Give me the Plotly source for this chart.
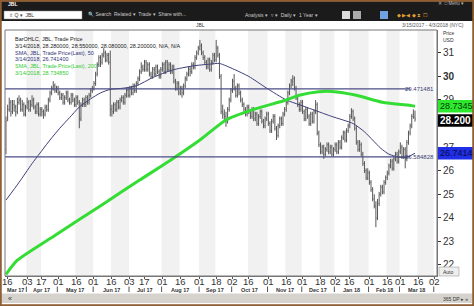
import plotly.graph_objects as go
import pandas as pd

# ---------------- data ----------------
holidays = ["2017-04-14", "2017-05-29", "2017-07-04", "2017-09-04", "2017-11-23",
            "2017-12-25", "2018-01-01", "2018-01-15", "2018-02-19", "2018-03-30"]
trade_dates = pd.bdate_range("2017-03-15", "2018-04-03", freq="C", holidays=holidays)

opens = [
    26.9, 28.2, 28.6, 28.9, 28.5, 28.8, 28.7, 28.5, 28.9, 29.0,
    28.6, 28.8, 28.4, 28.7, 28.9, 28.6, 28.8, 29.0, 28.7, 28.5,
    28.8, 28.4, 28.6, 28.5, 28.4, 28.7, 28.6, 29.0, 29.3, 29.5,
    29.6, 29.4, 29.5, 29.3, 29.1, 29.2, 28.9, 29.1, 29.3, 29.0,
    28.9, 29.2, 29.0, 28.8, 29.1, 28.9, 28.2, 28.8, 29.0, 28.8,
    29.1, 28.9, 29.2, 29.4, 29.5, 29.7, 30.1, 30.5, 30.8, 30.6,
    30.9, 31.0, 30.7, 30.9, 30.6, 28.6, 28.5, 28.8, 28.6, 28.9,
    28.7, 29.0, 29.1, 28.9, 29.2, 29.4, 29.2, 29.5, 29.3, 29.6,
    29.4, 29.7, 29.9, 30.2, 30.4, 30.3, 30.6, 30.3, 30.5, 30.1,
    30.0, 30.3, 30.1, 30.4, 30.2, 30.0, 30.3, 30.5, 30.2, 30.6,
    30.3, 30.5, 30.2, 30.4, 29.8, 29.5, 29.7, 29.3, 29.5, 29.3,
    29.6, 29.9, 30.1, 30.3, 30.2, 30.5, 30.4, 30.8, 31.0, 31.2,
    31.3, 31.0, 30.8, 30.6, 30.4, 30.7, 30.3, 30.6, 30.9, 30.7,
    31.2, 30.9, 30.0, 28.5, 28.4, 28.3, 28.1, 28.6, 29.0, 29.4,
    29.8, 29.5, 29.2, 29.6, 29.3, 29.0, 28.8, 28.6, 28.4, 28.7,
    28.5, 28.3, 28.6, 28.2, 28.4, 28.0, 28.3, 28.5, 28.1, 27.9,
    28.2, 28.4, 28.0, 27.7, 28.1, 28.3, 27.8, 27.5, 27.9, 28.2,
    28.0, 28.4, 28.6, 28.9, 29.3, 29.6, 29.8, 29.9, 29.5, 29.1,
    28.8, 28.6, 28.9, 28.5, 28.2, 28.6, 28.3, 28.0, 28.4, 28.1,
    28.5, 28.8, 27.6, 27.1, 26.8, 27.0, 26.7, 26.9, 27.1, 26.8,
    27.0, 26.7, 26.9, 27.1, 26.8, 27.2, 27.0, 27.4, 27.6, 27.3,
    27.7, 27.9, 28.3, 28.5, 28.2, 27.8, 27.2, 26.9, 27.1, 26.7,
    26.3, 26.0, 25.7, 25.9, 25.5, 25.2, 24.8, 24.5, 24.0, 24.6,
    25.0, 25.3, 25.1, 25.5, 25.7, 25.9, 26.2, 26.4, 26.1, 26.5,
    26.7, 26.4, 26.8, 27.0, 26.6, 26.9, 26.5, 27.2, 27.6, 27.9,
    28.3, 28.28,
]
highs = [
    28.3, 28.8, 29.1, 29.0, 29.0, 29.0, 28.8, 29.1, 29.2, 29.1,
    29.0, 28.9, 28.8, 29.1, 29.0, 29.0, 29.2, 29.1, 28.8, 28.9,
    28.9, 28.7, 28.7, 28.6, 28.8, 28.8, 29.1, 29.4, 29.6, 29.8,
    29.7, 29.6, 29.6, 29.4, 29.3, 29.3, 29.2, 29.4, 29.4, 29.1,
    29.3, 29.3, 29.1, 29.2, 29.2, 29.0, 28.9, 29.1, 29.1, 29.2,
    29.2, 29.3, 29.5, 29.6, 29.8, 30.2, 30.6, 30.9, 30.9, 31.0,
    31.2, 31.1, 31.0, 31.0, 31.1, 28.8, 28.9, 28.9, 29.0, 29.0,
    29.1, 29.2, 29.2, 29.3, 29.5, 29.5, 29.6, 29.6, 29.7, 29.7,
    29.8, 30.0, 30.3, 30.6, 30.5, 30.7, 30.7, 30.6, 30.6, 30.2,
    30.4, 30.4, 30.5, 30.5, 30.3, 30.4, 30.6, 30.6, 30.7, 30.7,
    30.6, 30.6, 30.5, 30.5, 29.9, 29.8, 29.8, 29.6, 29.6, 29.7,
    30.0, 30.2, 30.4, 30.4, 30.6, 30.6, 30.9, 31.1, 31.3, 31.55,
    31.4, 31.1, 30.9, 30.7, 30.8, 30.8, 30.7, 31.0, 31.0, 31.55,
    31.3, 31.0, 30.1, 28.8, 28.6, 28.5, 28.7, 29.1, 29.5, 29.9,
    30.1, 29.6, 29.7, 29.7, 29.4, 29.1, 28.9, 28.7, 28.8, 28.8,
    28.6, 28.7, 28.7, 28.5, 28.5, 28.4, 28.6, 28.6, 28.2, 28.3,
    28.5, 28.5, 28.1, 28.2, 28.4, 28.4, 27.9, 28.0, 28.3, 28.3,
    28.5, 28.7, 29.0, 29.4, 29.7, 29.9, 30.05, 30.0, 29.6, 29.2,
    28.9, 29.0, 29.0, 28.6, 28.7, 28.7, 28.4, 28.5, 28.5, 28.6,
    29.0, 28.9, 27.7, 27.2, 27.1, 27.1, 27.0, 27.2, 27.2, 27.1,
    27.1, 27.0, 27.2, 27.2, 27.3, 27.3, 27.5, 27.7, 27.7, 27.8,
    28.0, 28.4, 28.65, 28.6, 28.3, 27.9, 27.3, 27.3, 27.2, 26.8,
    26.4, 26.1, 26.1, 26.0, 25.6, 25.3, 25.0, 24.7, 24.8, 25.1,
    25.4, 25.4, 25.6, 25.8, 26.0, 26.3, 26.5, 26.5, 26.6, 26.8,
    26.8, 26.9, 27.2, 27.1, 27.0, 27.0, 27.3, 27.7, 28.0, 28.4,
    28.6, 28.55,
]
lows = [
    26.7, 28.1, 28.5, 28.3, 28.4, 28.5, 28.3, 28.4, 28.8, 28.5,
    28.5, 28.3, 28.3, 28.6, 28.5, 28.5, 28.7, 28.6, 28.4, 28.4,
    28.3, 28.3, 28.3, 28.2, 28.3, 28.5, 28.5, 28.9, 29.2, 29.4,
    29.3, 29.3, 29.2, 29.0, 29.0, 28.8, 28.8, 29.0, 28.9, 28.8,
    28.8, 28.9, 28.7, 28.7, 28.8, 27.8, 28.1, 28.7, 28.7, 28.7,
    28.8, 28.8, 29.1, 29.3, 29.4, 29.6, 30.0, 30.4, 30.4, 30.5,
    30.8, 30.6, 30.6, 30.5, 28.3, 28.3, 28.4, 28.5, 28.5, 28.6,
    28.6, 28.9, 28.8, 28.8, 29.1, 29.1, 29.1, 29.2, 29.2, 29.3,
    29.3, 29.6, 29.8, 30.1, 30.2, 30.2, 30.2, 30.2, 30.0, 29.9,
    29.9, 30.0, 30.0, 30.1, 29.9, 29.9, 30.2, 30.1, 30.1, 30.2,
    30.2, 30.1, 30.1, 29.7, 29.4, 29.4, 29.2, 29.2, 29.1, 29.2,
    29.5, 29.8, 30.0, 30.0, 30.1, 30.3, 30.3, 30.7, 30.9, 31.1,
    30.9, 30.7, 30.5, 30.3, 30.3, 30.2, 30.2, 30.5, 30.6, 30.6,
    30.8, 29.9, 28.4, 28.2, 28.1, 27.86, 28.0, 28.5, 28.9, 29.3,
    29.4, 29.1, 29.1, 29.2, 28.9, 28.7, 28.5, 28.3, 28.3, 28.4,
    28.2, 28.2, 28.1, 28.1, 27.9, 27.9, 28.2, 28.0, 27.8, 27.8,
    28.1, 27.9, 27.6, 27.6, 28.0, 27.7, 27.3, 27.4, 27.8, 27.9,
    27.9, 28.3, 28.5, 28.8, 29.2, 29.5, 29.6, 29.4, 29.0, 28.7,
    28.5, 28.5, 28.4, 28.1, 28.1, 28.2, 27.9, 27.9, 28.0, 28.0,
    28.4, 27.5, 27.0, 26.7, 26.7, 26.5, 26.6, 26.8, 26.7, 26.7,
    26.6, 26.6, 26.8, 26.7, 26.7, 26.9, 26.9, 27.3, 27.2, 27.2,
    27.6, 27.8, 28.2, 28.1, 27.7, 27.1, 26.8, 26.8, 26.6, 26.2,
    25.9, 25.6, 25.6, 25.4, 25.1, 24.7, 24.4, 23.6, 23.9, 24.5,
    24.9, 25.0, 25.0, 25.4, 25.6, 25.8, 26.1, 26.0, 26.0, 26.4,
    26.3, 26.3, 26.7, 26.5, 26.5, 26.1, 26.4, 27.1, 27.5, 27.8,
    28.2, 28.08,
]
closes = [
    28.1, 28.6, 28.9, 28.5, 28.8, 28.7, 28.5, 28.9, 29.0, 28.6,
    28.8, 28.4, 28.7, 28.9, 28.6, 28.8, 29.0, 28.7, 28.5, 28.8,
    28.4, 28.6, 28.5, 28.4, 28.7, 28.6, 29.0, 29.3, 29.5, 29.6,
    29.4, 29.5, 29.3, 29.1, 29.2, 28.9, 29.1, 29.3, 29.0, 28.9,
    29.2, 29.0, 28.8, 29.1, 28.9, 28.2, 28.8, 29.0, 28.8, 29.1,
    28.9, 29.2, 29.4, 29.5, 29.7, 30.1, 30.5, 30.8, 30.6, 30.9,
    31.0, 30.7, 30.9, 30.6, 28.6, 28.5, 28.8, 28.6, 28.9, 28.7,
    29.0, 29.1, 28.9, 29.2, 29.4, 29.2, 29.5, 29.3, 29.6, 29.4,
    29.7, 29.9, 30.2, 30.4, 30.3, 30.6, 30.3, 30.5, 30.1, 30.0,
    30.3, 30.1, 30.4, 30.2, 30.0, 30.3, 30.5, 30.2, 30.6, 30.3,
    30.5, 30.2, 30.4, 29.8, 29.5, 29.7, 29.3, 29.5, 29.3, 29.6,
    29.9, 30.1, 30.3, 30.2, 30.5, 30.4, 30.8, 31.0, 31.2, 31.3,
    31.0, 30.8, 30.6, 30.4, 30.7, 30.3, 30.6, 30.9, 30.7, 31.2,
    30.9, 30.0, 28.5, 28.4, 28.3, 28.1, 28.6, 29.0, 29.4, 29.8,
    29.5, 29.2, 29.6, 29.3, 29.0, 28.8, 28.6, 28.4, 28.7, 28.5,
    28.3, 28.6, 28.2, 28.4, 28.0, 28.3, 28.5, 28.1, 27.9, 28.2,
    28.4, 28.0, 27.7, 28.1, 28.3, 27.8, 27.5, 27.9, 28.2, 28.0,
    28.4, 28.6, 28.9, 29.3, 29.6, 29.8, 29.9, 29.5, 29.1, 28.8,
    28.6, 28.9, 28.5, 28.2, 28.6, 28.3, 28.0, 28.4, 28.1, 28.5,
    28.8, 27.6, 27.1, 26.8, 27.0, 26.7, 26.9, 27.1, 26.8, 27.0,
    26.7, 26.9, 27.1, 26.8, 27.2, 27.0, 27.4, 27.6, 27.3, 27.7,
    27.9, 28.3, 28.5, 28.2, 27.8, 27.2, 26.9, 27.1, 26.7, 26.3,
    26.0, 25.7, 25.9, 25.5, 25.2, 24.8, 24.5, 24.0, 24.6, 25.0,
    25.3, 25.1, 25.5, 25.7, 25.9, 26.2, 26.4, 26.1, 26.5, 26.7,
    26.4, 26.8, 27.0, 26.6, 26.9, 26.5, 27.2, 27.6, 27.9, 28.3,
    28.4, 28.2,
]

# moving averages (trading-day index, value)
sma50_idx = [0, 8, 16, 27, 33, 39, 45, 52, 58, 64, 72, 80, 90, 102, 115, 125, 131,
             140, 149, 160, 172, 180, 190, 200, 213, 220, 225, 230, 235, 243, 247, 251]
sma50_val = [24.75, 25.5, 26.3, 27.3, 27.8, 28.25, 28.7, 29.05, 29.3, 29.45, 29.5, 29.6,
             29.95, 30.27, 30.45, 30.52, 30.55, 30.3, 30.0, 29.5, 29.0, 28.8, 28.55, 28.3,
             28.0, 27.65, 27.3, 26.95, 26.7, 26.55, 26.6, 26.74]
sma200_idx = [0, 7, 30, 60, 82, 100, 119, 135, 151, 172, 180, 192, 200, 215, 231, 249, 251]
sma200_val = [21.6, 22.2, 23.25, 24.6, 25.6, 26.4, 27.3, 28.15, 28.58, 29.0, 29.2, 29.35,
              29.36, 29.2, 28.9, 28.76, 28.735]

hline_vals = [29.471481, 26.584828]
hline_text = ["29.471481", "26.584828"]

tick_dates = ["2017-03-16", "2017-04-03", "2017-04-17", "2017-05-01", "2017-05-16",
              "2017-06-01", "2017-06-16", "2017-07-03", "2017-07-17", "2017-08-01",
              "2017-08-16", "2017-09-01", "2017-09-18", "2017-10-02", "2017-10-16",
              "2017-11-01", "2017-11-16", "2017-12-01", "2017-12-18", "2018-01-02",
              "2018-01-16", "2018-02-01", "2018-02-16", "2018-03-01", "2018-03-16",
              "2018-04-02"]
tick_text = ["16", "03", "17", "01", "16", "01", "16", "03", "17", "01", "16", "01", "18",
             "02", "16", "01", "16", "01", "18", "02", "16", "01", "16", "01", "16", "02"]
month_text = ["Mar 17", "Apr 17", "May 17", "Jun 17", "Jul 17", "Aug 17", "Sep 17",
              "Oct 17", "Nov 17", "Dec 17", "Jan 18", "Feb 18", "Mar 18"]
price_ticks = [22, 23, 24, 25, 26, 27, 28, 29, 30, 31]

# shaded background intervals (start date, end date) as seen in the picture
band_start = ["2017-04-03", "2017-05-16", "2017-06-16", "2017-08-01", "2017-09-01",
              "2017-10-16", "2017-11-16", "2017-12-18", "2018-01-16", "2018-02-16",
              "2018-03-16"]
band_end = ["2017-04-17", "2017-06-01", "2017-07-03", "2017-08-16", "2017-09-18",
            "2017-11-01", "2017-12-01", "2018-01-02", "2018-02-01", "2018-03-01",
            "2018-04-02"]

# ---------------- geometry helpers ----------------
W, H = 474, 306
PL, PR, PT, PB = 5, 437, 30, 276


def px(x):
    return (x - PL) / (PR - PL)


def py(y):
    return (PB - y) / (PB - PT)


date_str = [d.strftime("%Y-%m-%d") for d in trade_dates]
date_index = {d: i for i, d in enumerate(date_str)}
n = len(closes)
xi = list(range(n))

fig = go.Figure()

fig.add_trace(go.Ohlc(
    x=xi, open=opens, high=highs, low=lows, close=closes,
    increasing=dict(line=dict(color="#585858", width=1)),
    decreasing=dict(line=dict(color="#585858", width=1)),
    tickwidth=0.35, showlegend=False, hoverinfo="skip"))

fig.add_trace(go.Scatter(x=sma50_idx, y=sma50_val, mode="lines",
                         line=dict(color="#3d3f78", width=1, shape="spline", smoothing=0.6),
                         showlegend=False, hoverinfo="skip"))
fig.add_trace(go.Scatter(x=sma200_idx, y=sma200_val, mode="lines",
                         line=dict(color="#33dd33", width=3, shape="spline", smoothing=0.6),
                         showlegend=False, hoverinfo="skip"))

shapes = []
annotations = []

for s, e in zip(band_start, band_end):
    shapes.append(dict(type="rect", xref="x", yref="paper",
                       x0=date_index[s] - 0.5, x1=date_index[e] - 0.5, y0=0, y1=1,
                       fillcolor="#f1f1f1", line=dict(width=0), layer="below"))

# horizontal reference lines
for v, t in zip(hline_vals, hline_text):
    shapes.append(dict(type="line", xref="paper", yref="y", x0=0, x1=px(410), y0=v, y1=v,
                       line=dict(color="#4b4d86", width=1.3)))
    annotations.append(dict(x=px(436), y=v, xref="paper", yref="y", text=t, showarrow=False,
                            xanchor="right", yanchor="middle",
                            font=dict(size=6, color="#3d3f78", family="Liberation Sans")))

# day labels under the axis
for d, t in zip(tick_dates, tick_text):
    annotations.append(dict(x=date_index[d], y=py(281.5), xref="x", yref="paper", text=t,
                            showarrow=False, xanchor="center", yanchor="middle",
                            font=dict(size=9.5, color="#333333", family="Liberation Sans")))

# month labels + separators below the day labels
months = sorted(set(d[:7] for d in date_str))
month_first = {}
for i, d in enumerate(date_str):
    month_first.setdefault(d[:7], i)
firsts = [month_first[m] for m in months]
for k, lab in enumerate(month_text):
    a = max(firsts[k], 0)
    b = firsts[k + 1] if k + 1 < len(firsts) else n
    annotations.append(dict(x=(a + b - 1) / 2, y=py(289.5), xref="x", yref="paper",
                            text="<b>" + lab + "</b>",
                            showarrow=False, xanchor="center", yanchor="middle",
                            font=dict(size=5.5, color="#333333", family="Liberation Sans")))
    if k + 1 < len(firsts):
        shapes.append(dict(type="line", xref="x", yref="paper", x0=firsts[k + 1] - 0.5,
                           x1=firsts[k + 1] - 0.5, y0=py(286.5), y1=py(292),
                           line=dict(color="#555555", width=1)))

# ---------- window chrome ----------
def rect(x0, y0, x1, y1, fill, line_color=None, lw=0, layer="above"):
    shapes.append(dict(type="rect", xref="paper", yref="paper", x0=px(x0), x1=px(x1),
                       y0=py(y1), y1=py(y0), fillcolor=fill,
                       line=dict(color=line_color or fill, width=lw), layer=layer))


def text(x, y, s, size=6, color="#222222", anchor="left", bold=False, family="Liberation Sans"):
    if bold:
        s = "<b>" + s + "</b>"
    annotations.append(dict(x=px(x), y=py(y), xref="paper", yref="paper", text=s,
                            showarrow=False, xanchor=anchor, yanchor="middle",
                            font=dict(size=size, color=color, family=family)))


# top title bar + toolbar
rect(0, 0, 474, 21, "#1b1b1b")
rect(0, 0, 474, 1.5, "#9a6a3a")
text(6, 3.5, "JBL", 5, "#ffffff", bold=True)
text(466, 4, "\u2715  \u25a1 Menu \u25be", 4.5, "#bbbbbb", anchor="right")
rect(4, 11, 82, 19, "#ffffff", "#888888", 0.5)
text(7, 15, "\u21e7 Q \u25be  JBL", 5, "#333333")
text(86, 15, "\U0001F50D Search  Related \u25be  Trade \u25be  Share with...", 5, "#cccccc")
text(243, 15, "Analysis \u25be  \u2248 \u25be  Daily \u25be  1 Year \u25be", 5, "#cccccc")
rect(342, 11, 350, 19, "#dddddd")
rect(353, 11, 361, 19, "#aaaaaa")
rect(380, 11, 388, 19, "#6fa0e0")
text(395, 15, "\u25c6 \u25b6\u25c0 \u25c6 \u29d7 \u2610", 5, "#e0a030")

# header line under toolbar
text(200, 25.5, "JBL", 5, "#333333", anchor="center")
text(466, 25.5, "3/15/2017 - 4/3/2018 (NYC)", 5, "#555555", anchor="right")

# plot frame
rect(PL, PT, PR, PB, "rgba(0,0,0,0)", "#777777", 1)

# legend text
leg = [("BarOHLC, JBL, Trade Price", "#222222"),
       ("3/14/2018, 28.280000, 28.550000, 28.080000, 28.200000, N/A, N/A", "#222222"),
       ("SMA, JBL, Trade Price(Last), 50", "#33337a"),
       ("3/14/2018, 26.741400", "#33337a"),
       ("SMA, JBL, Trade Price(Last), 200", "#33cc33"),
       ("3/14/2018, 28.734850", "#33cc33")]
for k, (s, c) in enumerate(leg):
    text(13, 39 + k * 6.8, s, 5.5, c)

# right panel
text(441, 33, "Price", 5, "#333333")
text(441, 40, "USD", 5, "#333333")
boxes = [(106.3, "28.7345", "#2ee82e", "#0a3a0a", False, 9),
         (120.5, "28.200", "#000000", "#ffffff", True, 10),
         (153.3, "26.7414", "#1f2fe8", "#0a0a40", False, 9)]
for yc, s, bg, fg, b, fs in boxes:
    rect(438, yc - 6.3, 474, yc + 6.3, bg)
    text(438.3, yc, s, fs, fg, bold=b)
rect(439, 267, 459, 276, "#eeeeee", "#888888", 0.5)
text(449, 271.5, "Auto", 5, "#333333", anchor="center")

# bottom bar
rect(0, 293.5, 474, 303, "#d6d3ce")
text(6, 298.5, "\u00ab", 7, "#333333")
text(470, 298.5, "365 DP \u25b8 \u00bb", 5, "#333333", anchor="right")

# brown outer frame
shapes.append(dict(type="rect", xref="paper", yref="paper", x0=px(0.5), x1=px(473.5),
                   y0=py(305.5), y1=py(0.5), line=dict(color="#8f5e33", width=2.5),
                   fillcolor="rgba(0,0,0,0)"))

yticktext = ["<b>30</b>" if v == 30 else ("" if v == 28 else str(v)) for v in price_ticks]

fig.update_layout(
    width=W, height=H,
    margin=dict(l=PL, r=W - PR, t=PT, b=H - PB),
    paper_bgcolor="#ffffff", plot_bgcolor="#ffffff",
    showlegend=False,
    shapes=shapes, annotations=annotations,
    xaxis=dict(range=[-0.6, 264.5], tickmode="array",
               tickvals=[date_index[d] for d in tick_dates], ticktext=tick_text,
               showticklabels=False,
               ticks="outside", ticklen=2, tickcolor="#555555",
               showgrid=False, zeroline=False, showline=True, linecolor="#777777",
               rangeslider=dict(visible=False), fixedrange=True),
    yaxis=dict(range=[21.53, 31.97], side="right", tickmode="array",
               tickvals=price_ticks, ticktext=yticktext,
               ticks="outside", ticklen=3, tickcolor="#333333",
               tickfont=dict(size=10, color="#333333", family="Liberation Sans"),
               showgrid=False, zeroline=False, showline=True, linecolor="#777777",
               fixedrange=True),
)

fig.write_html("out.html")
